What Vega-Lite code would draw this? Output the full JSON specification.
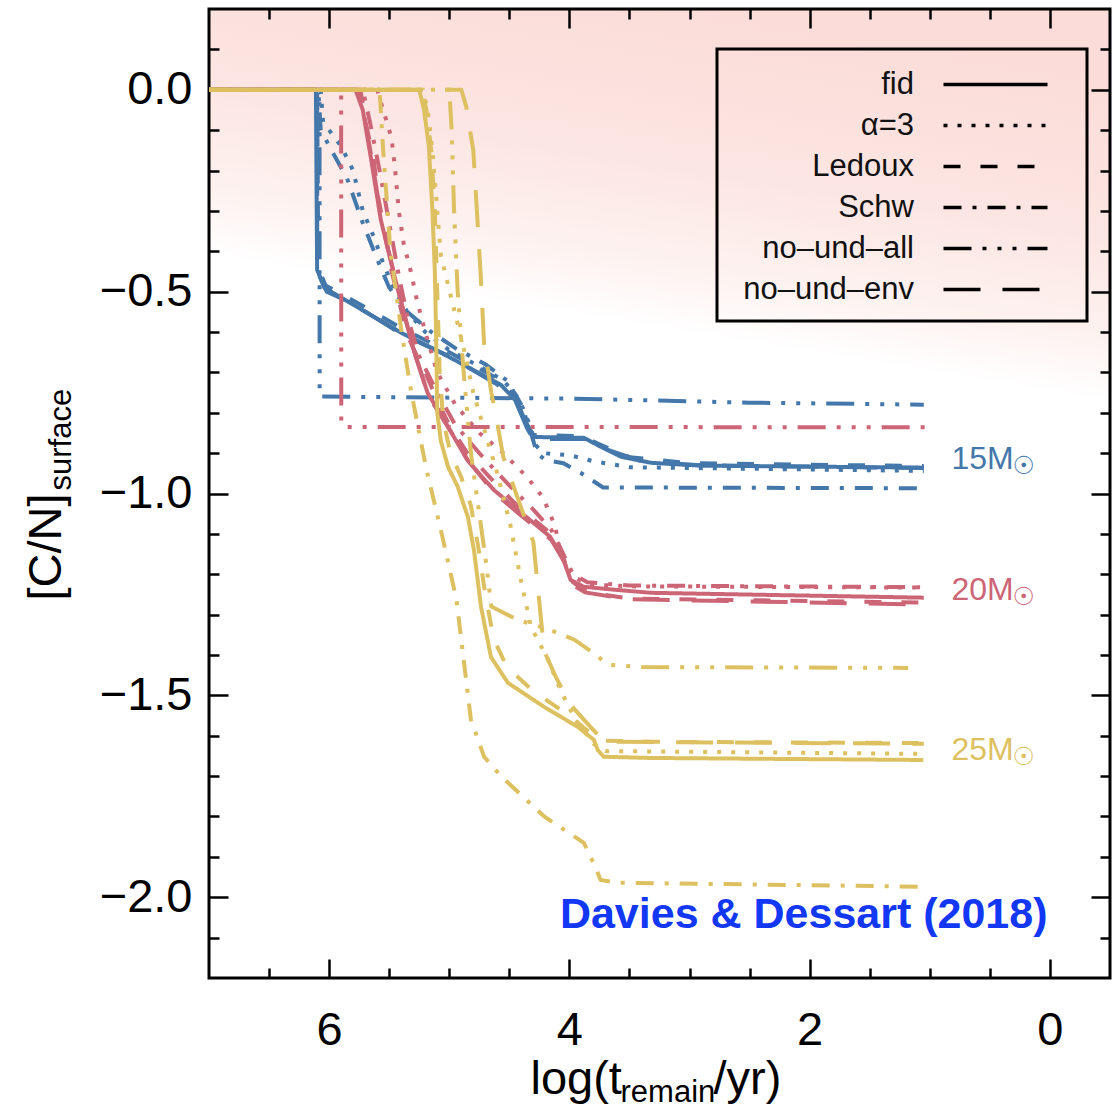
{
"$schema": "https://vega.github.io/schema/vega-lite/v6.json",
"width": 901, "height": 969,
"autosize": {"type": "none"},
"padding": {"left": 209, "top": 9, "right": 8, "bottom": 129},
"background": "white",
"config": {
 "view": {"stroke": "black", "strokeWidth": 3, "fill": {"gradient": "linear", "x1": 0.55, "y1": 0, "x2": 0.5, "y2": 0.33, "stops": [{"offset": 0, "color": "#fbdcd8"}, {"offset": 0.5, "color": "#fce6e3"}, {"offset": 0.8, "color": "#fdf2f0"}, {"offset": 1, "color": "#ffffff"}]}},
 "axis": {"domain": false, "grid": false, "tickColor": "black", "tickWidth": 2.5, "labelFont": "Liberation Sans", "titleFont": "Liberation Sans", "labelColor": "black", "titleColor": "black", "titleFontWeight": "normal", "labelFontSize": 47, "labelFlush": false}
},
"datasets": {"curves": [
{"m":"15","k":"fid","x":7,"y":0},{"m":"15","k":"fid","x":6.11,"y":0},{"m":"15","k":"fid","x":6.10,"y":-0.446},{"m":"15","k":"fid","x":6.04,"y":-0.49},{"m":"15","k":"fid","x":5.90,"y":-0.515},{"m":"15","k":"fid","x":5.40,"y":-0.602},{"m":"15","k":"fid","x":5.07,"y":-0.651},{"m":"15","k":"fid","x":4.57,"y":-0.731},{"m":"15","k":"fid","x":4.43,"y":-0.775},{"m":"15","k":"fid","x":4.35,"y":-0.835},{"m":"15","k":"fid","x":4.30,"y":-0.86},{"m":"15","k":"fid","x":3.88,"y":-0.862},{"m":"15","k":"fid","x":3.74,"y":-0.884},{"m":"15","k":"fid","x":3.57,"y":-0.909},{"m":"15","k":"fid","x":3.32,"y":-0.924},{"m":"15","k":"fid","x":2.91,"y":-0.931},{"m":"15","k":"fid","x":1.05,"y":-0.936},
{"m":"15","k":"α=3","x":7,"y":0},{"m":"15","k":"α=3","x":6.07,"y":0},{"m":"15","k":"α=3","x":6.05,"y":-0.08},{"m":"15","k":"α=3","x":6.0,"y":-0.1},{"m":"15","k":"α=3","x":5.9,"y":-0.14},{"m":"15","k":"α=3","x":5.8,"y":-0.2},{"m":"15","k":"α=3","x":5.72,"y":-0.3},{"m":"15","k":"α=3","x":5.62,"y":-0.37},{"m":"15","k":"α=3","x":5.55,"y":-0.43},{"m":"15","k":"α=3","x":5.45,"y":-0.5},{"m":"15","k":"α=3","x":5.35,"y":-0.55},{"m":"15","k":"α=3","x":5.2,"y":-0.6},{"m":"15","k":"α=3","x":5.0,"y":-0.645},{"m":"15","k":"α=3","x":4.75,"y":-0.685},{"m":"15","k":"α=3","x":4.55,"y":-0.72},{"m":"15","k":"α=3","x":4.42,"y":-0.765},{"m":"15","k":"α=3","x":4.33,"y":-0.83},{"m":"15","k":"α=3","x":4.28,"y":-0.88},{"m":"15","k":"α=3","x":4.22,"y":-0.9},{"m":"15","k":"α=3","x":4.0,"y":-0.905},{"m":"15","k":"α=3","x":3.8,"y":-0.92},{"m":"15","k":"α=3","x":3.5,"y":-0.935},{"m":"15","k":"α=3","x":1.05,"y":-0.944},
{"m":"15","k":"Ledoux","x":7,"y":0},{"m":"15","k":"Ledoux","x":6.1,"y":0},{"m":"15","k":"Ledoux","x":6.09,"y":-0.44},{"m":"15","k":"Ledoux","x":6.03,"y":-0.485},{"m":"15","k":"Ledoux","x":5.9,"y":-0.505},{"m":"15","k":"Ledoux","x":5.4,"y":-0.59},{"m":"15","k":"Ledoux","x":5.0,"y":-0.65},{"m":"15","k":"Ledoux","x":4.6,"y":-0.715},{"m":"15","k":"Ledoux","x":4.45,"y":-0.76},{"m":"15","k":"Ledoux","x":4.35,"y":-0.83},{"m":"15","k":"Ledoux","x":4.3,"y":-0.855},{"m":"15","k":"Ledoux","x":3.9,"y":-0.858},{"m":"15","k":"Ledoux","x":3.75,"y":-0.878},{"m":"15","k":"Ledoux","x":3.5,"y":-0.91},{"m":"15","k":"Ledoux","x":3.0,"y":-0.925},{"m":"15","k":"Ledoux","x":1.05,"y":-0.932},
{"m":"15","k":"Schw","x":7,"y":0},{"m":"15","k":"Schw","x":6.09,"y":0},{"m":"15","k":"Schw","x":6.07,"y":-0.1},{"m":"15","k":"Schw","x":5.98,"y":-0.15},{"m":"15","k":"Schw","x":5.85,"y":-0.22},{"m":"15","k":"Schw","x":5.72,"y":-0.33},{"m":"15","k":"Schw","x":5.6,"y":-0.42},{"m":"15","k":"Schw","x":5.5,"y":-0.49},{"m":"15","k":"Schw","x":5.35,"y":-0.55},{"m":"15","k":"Schw","x":5.15,"y":-0.6},{"m":"15","k":"Schw","x":4.95,"y":-0.64},{"m":"15","k":"Schw","x":4.7,"y":-0.68},{"m":"15","k":"Schw","x":4.52,"y":-0.72},{"m":"15","k":"Schw","x":4.4,"y":-0.78},{"m":"15","k":"Schw","x":4.32,"y":-0.85},{"m":"15","k":"Schw","x":4.27,"y":-0.9},{"m":"15","k":"Schw","x":4.2,"y":-0.917},{"m":"15","k":"Schw","x":4.05,"y":-0.925},{"m":"15","k":"Schw","x":3.9,"y":-0.95},{"m":"15","k":"Schw","x":3.72,"y":-0.985},{"m":"15","k":"Schw","x":1.05,"y":-0.987},
{"m":"15","k":"no–und–all","x":7,"y":0},{"m":"15","k":"no–und–all","x":6.08,"y":0},{"m":"15","k":"no–und–all","x":6.079,"y":-0.76},{"m":"15","k":"no–und–all","x":4.0,"y":-0.765},{"m":"15","k":"no–und–all","x":2.5,"y":-0.775},{"m":"15","k":"no–und–all","x":1.05,"y":-0.78},
{"m":"15","k":"no–und–env","x":7,"y":0},{"m":"15","k":"no–und–env","x":6.1,"y":0},{"m":"15","k":"no–und–env","x":6.099,"y":-0.45},{"m":"15","k":"no–und–env","x":6.02,"y":-0.5},{"m":"15","k":"no–und–env","x":5.8,"y":-0.53},{"m":"15","k":"no–und–env","x":5.4,"y":-0.605},{"m":"15","k":"no–und–env","x":5.0,"y":-0.66},{"m":"15","k":"no–und–env","x":4.6,"y":-0.73},{"m":"15","k":"no–und–env","x":4.45,"y":-0.77},{"m":"15","k":"no–und–env","x":4.35,"y":-0.84},{"m":"15","k":"no–und–env","x":4.3,"y":-0.865},{"m":"15","k":"no–und–env","x":3.85,"y":-0.865},{"m":"15","k":"no–und–env","x":3.7,"y":-0.89},{"m":"15","k":"no–und–env","x":3.4,"y":-0.92},{"m":"15","k":"no–und–env","x":2.9,"y":-0.93},{"m":"15","k":"no–und–env","x":1.05,"y":-0.937},
{"m":"20","k":"fid","x":7,"y":0},{"m":"20","k":"fid","x":5.78,"y":0},{"m":"20","k":"fid","x":5.72,"y":-0.05},{"m":"20","k":"fid","x":5.65,"y":-0.173},{"m":"20","k":"fid","x":5.57,"y":-0.322},{"m":"20","k":"fid","x":5.49,"y":-0.421},{"m":"20","k":"fid","x":5.38,"y":-0.552},{"m":"20","k":"fid","x":5.29,"y":-0.651},{"m":"20","k":"fid","x":5.18,"y":-0.751},{"m":"20","k":"fid","x":5.01,"y":-0.835},{"m":"20","k":"fid","x":4.85,"y":-0.917},{"m":"20","k":"fid","x":4.63,"y":-0.991},{"m":"20","k":"fid","x":4.40,"y":-1.048},{"m":"20","k":"fid","x":4.16,"y":-1.107},{"m":"20","k":"fid","x":4.05,"y":-1.164},{"m":"20","k":"fid","x":3.99,"y":-1.214},{"m":"20","k":"fid","x":3.88,"y":-1.231},{"m":"20","k":"fid","x":3.6,"y":-1.239},{"m":"20","k":"fid","x":3.32,"y":-1.246},{"m":"20","k":"fid","x":1.05,"y":-1.258},
{"m":"20","k":"α=3","x":7,"y":0},{"m":"20","k":"α=3","x":5.6,"y":0},{"m":"20","k":"α=3","x":5.55,"y":-0.05},{"m":"20","k":"α=3","x":5.48,"y":-0.12},{"m":"20","k":"α=3","x":5.45,"y":-0.2},{"m":"20","k":"α=3","x":5.42,"y":-0.3},{"m":"20","k":"α=3","x":5.38,"y":-0.38},{"m":"20","k":"α=3","x":5.32,"y":-0.45},{"m":"20","k":"α=3","x":5.27,"y":-0.52},{"m":"20","k":"α=3","x":5.2,"y":-0.6},{"m":"20","k":"α=3","x":5.1,"y":-0.7},{"m":"20","k":"α=3","x":4.95,"y":-0.78},{"m":"20","k":"α=3","x":4.75,"y":-0.85},{"m":"20","k":"α=3","x":4.55,"y":-0.9},{"m":"20","k":"α=3","x":4.35,"y":-0.96},{"m":"20","k":"α=3","x":4.22,"y":-1.01},{"m":"20","k":"α=3","x":4.12,"y":-1.08},{"m":"20","k":"α=3","x":4.07,"y":-1.15},{"m":"20","k":"α=3","x":4.0,"y":-1.2},{"m":"20","k":"α=3","x":3.85,"y":-1.225},{"m":"20","k":"α=3","x":3.5,"y":-1.23},{"m":"20","k":"α=3","x":1.05,"y":-1.233},
{"m":"20","k":"Ledoux","x":7,"y":0},{"m":"20","k":"Ledoux","x":5.74,"y":0},{"m":"20","k":"Ledoux","x":5.69,"y":-0.09},{"m":"20","k":"Ledoux","x":5.63,"y":-0.17},{"m":"20","k":"Ledoux","x":5.59,"y":-0.27},{"m":"20","k":"Ledoux","x":5.55,"y":-0.33},{"m":"20","k":"Ledoux","x":5.48,"y":-0.45},{"m":"20","k":"Ledoux","x":5.42,"y":-0.52},{"m":"20","k":"Ledoux","x":5.36,"y":-0.6},{"m":"20","k":"Ledoux","x":5.3,"y":-0.64},{"m":"20","k":"Ledoux","x":5.2,"y":-0.7},{"m":"20","k":"Ledoux","x":5.1,"y":-0.77},{"m":"20","k":"Ledoux","x":5.0,"y":-0.83},{"m":"20","k":"Ledoux","x":4.85,"y":-0.9},{"m":"20","k":"Ledoux","x":4.6,"y":-0.98},{"m":"20","k":"Ledoux","x":4.4,"y":-1.04},{"m":"20","k":"Ledoux","x":4.15,"y":-1.1},{"m":"20","k":"Ledoux","x":4.05,"y":-1.16},{"m":"20","k":"Ledoux","x":3.97,"y":-1.22},{"m":"20","k":"Ledoux","x":3.85,"y":-1.245},{"m":"20","k":"Ledoux","x":3.5,"y":-1.26},{"m":"20","k":"Ledoux","x":1.05,"y":-1.27},
{"m":"20","k":"Schw","x":7,"y":0},{"m":"20","k":"Schw","x":5.72,"y":0},{"m":"20","k":"Schw","x":5.66,"y":-0.08},{"m":"20","k":"Schw","x":5.58,"y":-0.2},{"m":"20","k":"Schw","x":5.5,"y":-0.33},{"m":"20","k":"Schw","x":5.42,"y":-0.46},{"m":"20","k":"Schw","x":5.35,"y":-0.56},{"m":"20","k":"Schw","x":5.25,"y":-0.66},{"m":"20","k":"Schw","x":5.1,"y":-0.75},{"m":"20","k":"Schw","x":4.95,"y":-0.83},{"m":"20","k":"Schw","x":4.75,"y":-0.9},{"m":"20","k":"Schw","x":4.5,"y":-0.98},{"m":"20","k":"Schw","x":4.3,"y":-1.04},{"m":"20","k":"Schw","x":4.15,"y":-1.09},{"m":"20","k":"Schw","x":4.05,"y":-1.15},{"m":"20","k":"Schw","x":3.97,"y":-1.2},{"m":"20","k":"Schw","x":3.85,"y":-1.22},{"m":"20","k":"Schw","x":3.5,"y":-1.228},{"m":"20","k":"Schw","x":1.05,"y":-1.232},
{"m":"20","k":"no–und–all","x":7,"y":0},{"m":"20","k":"no–und–all","x":5.9,"y":0},{"m":"20","k":"no–und–all","x":5.899,"y":-0.83},{"m":"20","k":"no–und–all","x":5.85,"y":-0.835},{"m":"20","k":"no–und–all","x":1.0,"y":-0.836},
{"m":"20","k":"no–und–env","x":7,"y":0},{"m":"20","k":"no–und–env","x":5.77,"y":0},{"m":"20","k":"no–und–env","x":5.71,"y":-0.06},{"m":"20","k":"no–und–env","x":5.64,"y":-0.18},{"m":"20","k":"no–und–env","x":5.56,"y":-0.33},{"m":"20","k":"no–und–env","x":5.48,"y":-0.43},{"m":"20","k":"no–und–env","x":5.37,"y":-0.56},{"m":"20","k":"no–und–env","x":5.28,"y":-0.66},{"m":"20","k":"no–und–env","x":5.17,"y":-0.76},{"m":"20","k":"no–und–env","x":5.0,"y":-0.84},{"m":"20","k":"no–und–env","x":4.84,"y":-0.92},{"m":"20","k":"no–und–env","x":4.62,"y":-1.0},{"m":"20","k":"no–und–env","x":4.4,"y":-1.055},{"m":"20","k":"no–und–env","x":4.15,"y":-1.115},{"m":"20","k":"no–und–env","x":4.04,"y":-1.17},{"m":"20","k":"no–und–env","x":3.98,"y":-1.225},{"m":"20","k":"no–und–env","x":3.87,"y":-1.245},{"m":"20","k":"no–und–env","x":3.5,"y":-1.262},{"m":"20","k":"no–und–env","x":1.05,"y":-1.275},
{"m":"25","k":"fid","x":7,"y":0},{"m":"25","k":"fid","x":5.25,"y":0},{"m":"25","k":"fid","x":5.21,"y":-0.05},{"m":"25","k":"fid","x":5.17,"y":-0.14},{"m":"25","k":"fid","x":5.14,"y":-0.3},{"m":"25","k":"fid","x":5.12,"y":-0.45},{"m":"25","k":"fid","x":5.11,"y":-0.6},{"m":"25","k":"fid","x":5.1,"y":-0.8},{"m":"25","k":"fid","x":5.07,"y":-0.87},{"m":"25","k":"fid","x":5.01,"y":-0.934},{"m":"25","k":"fid","x":4.93,"y":-0.983},{"m":"25","k":"fid","x":4.845,"y":-1.058},{"m":"25","k":"fid","x":4.795,"y":-1.139},{"m":"25","k":"fid","x":4.736,"y":-1.28},{"m":"25","k":"fid","x":4.653,"y":-1.405},{"m":"25","k":"fid","x":4.512,"y":-1.469},{"m":"25","k":"fid","x":4.213,"y":-1.528},{"m":"25","k":"fid","x":3.93,"y":-1.578},{"m":"25","k":"fid","x":3.797,"y":-1.61},{"m":"25","k":"fid","x":3.764,"y":-1.635},{"m":"25","k":"fid","x":3.714,"y":-1.652},{"m":"25","k":"fid","x":3.323,"y":-1.655},{"m":"25","k":"fid","x":1.054,"y":-1.66},
{"m":"25","k":"α=3","x":7,"y":0},{"m":"25","k":"α=3","x":5.22,"y":0},{"m":"25","k":"α=3","x":5.18,"y":-0.05},{"m":"25","k":"α=3","x":5.14,"y":-0.15},{"m":"25","k":"α=3","x":5.1,"y":-0.3},{"m":"25","k":"α=3","x":5.07,"y":-0.41},{"m":"25","k":"α=3","x":4.98,"y":-0.52},{"m":"25","k":"α=3","x":4.88,"y":-0.64},{"m":"25","k":"α=3","x":4.8,"y":-0.75},{"m":"25","k":"α=3","x":4.7,"y":-0.85},{"m":"25","k":"α=3","x":4.6,"y":-0.95},{"m":"25","k":"α=3","x":4.49,"y":-1.08},{"m":"25","k":"α=3","x":4.4,"y":-1.22},{"m":"25","k":"α=3","x":4.32,"y":-1.33},{"m":"25","k":"α=3","x":4.18,"y":-1.41},{"m":"25","k":"α=3","x":4.07,"y":-1.49},{"m":"25","k":"α=3","x":3.95,"y":-1.56},{"m":"25","k":"α=3","x":3.8,"y":-1.62},{"m":"25","k":"α=3","x":3.7,"y":-1.638},{"m":"25","k":"α=3","x":1.05,"y":-1.645},
{"m":"25","k":"Ledoux","x":7,"y":0},{"m":"25","k":"Ledoux","x":5.23,"y":0},{"m":"25","k":"Ledoux","x":5.19,"y":-0.05},{"m":"25","k":"Ledoux","x":5.15,"y":-0.15},{"m":"25","k":"Ledoux","x":5.12,"y":-0.3},{"m":"25","k":"Ledoux","x":5.1,"y":-0.5},{"m":"25","k":"Ledoux","x":5.08,"y":-0.7},{"m":"25","k":"Ledoux","x":5.05,"y":-0.82},{"m":"25","k":"Ledoux","x":4.99,"y":-0.9},{"m":"25","k":"Ledoux","x":4.9,"y":-0.96},{"m":"25","k":"Ledoux","x":4.82,"y":-1.03},{"m":"25","k":"Ledoux","x":4.76,"y":-1.13},{"m":"25","k":"Ledoux","x":4.7,"y":-1.25},{"m":"25","k":"Ledoux","x":4.63,"y":-1.36},{"m":"25","k":"Ledoux","x":4.52,"y":-1.43},{"m":"25","k":"Ledoux","x":4.3,"y":-1.49},{"m":"25","k":"Ledoux","x":4.0,"y":-1.55},{"m":"25","k":"Ledoux","x":3.82,"y":-1.595},{"m":"25","k":"Ledoux","x":3.72,"y":-1.612},{"m":"25","k":"Ledoux","x":3.3,"y":-1.615},{"m":"25","k":"Ledoux","x":1.05,"y":-1.618},
{"m":"25","k":"Schw","x":7,"y":0},{"m":"25","k":"Schw","x":5.58,"y":0},{"m":"25","k":"Schw","x":5.55,"y":-0.15},{"m":"25","k":"Schw","x":5.49,"y":-0.4},{"m":"25","k":"Schw","x":5.4,"y":-0.594},{"m":"25","k":"Schw","x":5.32,"y":-0.743},{"m":"25","k":"Schw","x":5.19,"y":-0.941},{"m":"25","k":"Schw","x":5.07,"y":-1.09},{"m":"25","k":"Schw","x":4.94,"y":-1.263},{"m":"25","k":"Schw","x":4.82,"y":-1.56},{"m":"25","k":"Schw","x":4.71,"y":-1.652},{"m":"25","k":"Schw","x":4.57,"y":-1.70},{"m":"25","k":"Schw","x":4.21,"y":-1.80},{"m":"25","k":"Schw","x":3.88,"y":-1.865},{"m":"25","k":"Schw","x":3.8,"y":-1.915},{"m":"25","k":"Schw","x":3.74,"y":-1.957},{"m":"25","k":"Schw","x":3.6,"y":-1.964},{"m":"25","k":"Schw","x":1.02,"y":-1.974},
{"m":"25","k":"no–und–all","x":7,"y":0},{"m":"25","k":"no–und–all","x":5.0,"y":0},{"m":"25","k":"no–und–all","x":4.98,"y":-0.1},{"m":"25","k":"no–und–all","x":4.96,"y":-0.3},{"m":"25","k":"no–und–all","x":4.93,"y":-0.5},{"m":"25","k":"no–und–all","x":4.88,"y":-0.7},{"m":"25","k":"no–und–all","x":4.82,"y":-0.9},{"m":"25","k":"no–und–all","x":4.75,"y":-1.05},{"m":"25","k":"no–und–all","x":4.69,"y":-1.18},{"m":"25","k":"no–und–all","x":4.65,"y":-1.28},{"m":"25","k":"no–und–all","x":4.43,"y":-1.313},{"m":"25","k":"no–und–all","x":4.16,"y":-1.338},{"m":"25","k":"no–und–all","x":3.96,"y":-1.362},{"m":"25","k":"no–und–all","x":3.8,"y":-1.395},{"m":"25","k":"no–und–all","x":3.68,"y":-1.424},{"m":"25","k":"no–und–all","x":3.4,"y":-1.43},{"m":"25","k":"no–und–all","x":1.18,"y":-1.432},
{"m":"25","k":"no–und–env","x":7,"y":0},{"m":"25","k":"no–und–env","x":4.9,"y":0},{"m":"25","k":"no–und–env","x":4.86,"y":-0.04},{"m":"25","k":"no–und–env","x":4.8,"y":-0.15},{"m":"25","k":"no–und–env","x":4.77,"y":-0.3},{"m":"25","k":"no–und–env","x":4.74,"y":-0.45},{"m":"25","k":"no–und–env","x":4.71,"y":-0.63},{"m":"25","k":"no–und–env","x":4.65,"y":-0.75},{"m":"25","k":"no–und–env","x":4.61,"y":-0.81},{"m":"25","k":"no–und–env","x":4.55,"y":-0.91},{"m":"25","k":"no–und–env","x":4.42,"y":-1.02},{"m":"25","k":"no–und–env","x":4.3,"y":-1.12},{"m":"25","k":"no–und–env","x":4.25,"y":-1.27},{"m":"25","k":"no–und–env","x":4.21,"y":-1.39},{"m":"25","k":"no–und–env","x":4.12,"y":-1.45},{"m":"25","k":"no–und–env","x":4.0,"y":-1.52},{"m":"25","k":"no–und–env","x":3.88,"y":-1.56},{"m":"25","k":"no–und–env","x":3.74,"y":-1.605},{"m":"25","k":"no–und–env","x":3.6,"y":-1.615},{"m":"25","k":"no–und–env","x":1.05,"y":-1.62}
],
"labels": [{"m":"15","t":"15M","x":0.82,"y":-0.94},{"m":"20","t":"20M","x":0.82,"y":-1.263},{"m":"25","t":"25M","x":0.82,"y":-1.66}],
"credit": [{"t":"Davies & Dessart (2018)","x":0.02,"y":-2.045}]
},
"data": {"name": "curves"},
"transform": [{"window": [{"op": "row_number", "as": "rn"}]}],
"resolve": {"axis": {"x": "independent", "y": "independent"}},
"layer": [
 {"transform": [{"filter": "datum.m == '15'"}],
  "mark": {"type": "line", "strokeWidth": 4},
  "encoding": {
   "x": {"field": "x", "type": "quantitative", "scale": {"domain": [-0.5, 7], "reverse": true, "nice": false, "zero": false},
         "axis": {"orient": "bottom", "values": [6,4,2,0], "format": "d", "tickSize": -19, "labelPadding": 48, "title": "log(t", "titleFontSize": 47, "titleX": 321, "titleY": 115, "titleAlign": "left", "titleBaseline": "alphabetic", "titleAngle": 0}},
   "y": {"field": "y", "type": "quantitative", "scale": {"domain": [-2.2, 0.2], "nice": false, "zero": false},
         "axis": {"orient": "left", "values": [0,-0.5,-1,-1.5,-2], "format": ".1f", "tickSize": -19, "labelPadding": 36, "title": "[C/N]", "titleFontSize": 47, "titleX": -149, "titleY": 591, "titleAngle": 270, "titleAlign": "left", "titleBaseline": "alphabetic"}},
   "color": {"field": "m", "type": "nominal", "scale": {"domain": ["15","20","25"], "range": ["#4477aa","#cc6677","#ddc060"]}, "legend": null},
   "strokeDash": {"field": "k", "type": "nominal", "scale": {"domain": ["fid","α=3","Ledoux","Schw","no–und–all","no–und–env"], "range": [[1,0],[4,10],[17,20],[18,11,4,11],[28,11,4,11,4,11,4,11],[37,22]]},
         "legend": {"title": "\u00a0", "titleOrient": "right", "titlePadding": 16, "titleFontSize": 31, "orient": "none", "legendX": 508, "legendY": 40,
                    "symbolType": "M-3,0H3", "symbolSize": 1202, "symbolStrokeWidth": 3.5, "symbolStrokeColor": "black", "symbolFillColor": "transparent", "symbolOffset": 243,
                    "labelFontSize": 31, "labelFont": "Liberation Sans", "labelColor": "#111111", "labelAlign": "right", "labelOffset": -101, "rowPadding": 6, "padding": 16, "strokeColor": "black", "labelLimit": 400,
                    "encode": {"legend": {"update": {"strokeWidth": {"value": 3}}}}}},
   "order": {"field": "rn"}
  }},
 {"transform": [{"filter": "datum.m == '20'"}],
  "mark": {"type": "line", "strokeWidth": 4},
  "encoding": {
   "x": {"field": "x", "type": "quantitative", "scale": {"domain": [-0.5, 7], "reverse": true, "nice": false, "zero": false},
         "axis": {"orient": "bottom", "values": [6.5,5.5,5,4.5,3.5,3,2.5,1.5,1,0.5], "tickSize": -10, "labels": false, "title": "remain", "titleFontSize": 31, "titleX": 411, "titleY": 123, "titleAlign": "left", "titleBaseline": "alphabetic", "titleAngle": 0}},
   "y": {"field": "y", "type": "quantitative", "scale": {"domain": [-2.2, 0.2], "nice": false, "zero": false},
         "axis": {"orient": "left", "values": [0.1,-0.1,-0.2,-0.3,-0.4,-0.6,-0.7,-0.8,-0.9,-1.1,-1.2,-1.3,-1.4,-1.6,-1.7,-1.8,-1.9,-2.1], "tickSize": -10, "labels": false, "title": "surface", "titleFontSize": 31, "titleX": -139, "titleY": 481, "titleAngle": 270, "titleAlign": "left", "titleBaseline": "alphabetic"}},
   "color": {"field": "m", "type": "nominal", "scale": {"domain": ["15","20","25"], "range": ["#4477aa","#cc6677","#ddc060"]}, "legend": null},
   "strokeDash": {"field": "k", "type": "nominal", "scale": {"domain": ["fid","α=3","Ledoux","Schw","no–und–all","no–und–env"], "range": [[1,0],[4,10],[17,20],[18,11,4,11],[28,11,4,11,4,11,4,11],[37,22]]}},
   "order": {"field": "rn"}
  }},
 {"transform": [{"filter": "datum.m == '25'"}],
  "mark": {"type": "line", "strokeWidth": 4},
  "encoding": {
   "x": {"field": "x", "type": "quantitative", "scale": {"domain": [-0.5, 7], "reverse": true, "nice": false, "zero": false},
         "axis": {"orient": "top", "values": [6,4,2,0], "tickSize": -19, "labels": false, "title": "/yr)", "titleFontSize": 47, "titleX": 504, "titleY": 1084, "titleAlign": "left", "titleBaseline": "alphabetic", "titleAngle": 0}},
   "y": {"field": "y", "type": "quantitative", "scale": {"domain": [-2.2, 0.2], "nice": false, "zero": false},
         "axis": {"orient": "right", "values": [0,-0.5,-1,-1.5,-2], "tickSize": -19, "labels": false, "title": null}},
   "color": {"field": "m", "type": "nominal", "scale": {"domain": ["15","20","25"], "range": ["#4477aa","#cc6677","#ddc060"]}, "legend": null},
   "strokeDash": {"field": "k", "type": "nominal", "scale": {"domain": ["fid","α=3","Ledoux","Schw","no–und–all","no–und–env"], "range": [[1,0],[4,10],[17,20],[18,11,4,11],[28,11,4,11,4,11,4,11],[37,22]]}},
   "order": {"field": "rn"}
  }},
 {"data": {"name": "labels"},
  "mark": {"type": "text", "align": "left", "baseline": "alphabetic", "font": "Liberation Sans", "fontSize": 32},
  "encoding": {
   "x": {"field": "x", "type": "quantitative", "scale": {"domain": [-0.5, 7], "reverse": true, "nice": false, "zero": false},
         "axis": {"orient": "top", "values": [6.5,5.5,5,4.5,3.5,3,2.5,1.5,1,0.5], "tickSize": -10, "labels": false, "title": null}},
   "y": {"field": "y", "type": "quantitative", "scale": {"domain": [-2.2, 0.2], "nice": false, "zero": false},
         "axis": {"orient": "right", "values": [0.1,-0.1,-0.2,-0.3,-0.4,-0.6,-0.7,-0.8,-0.9,-1.1,-1.2,-1.3,-1.4,-1.6,-1.7,-1.8,-1.9,-2.1], "tickSize": -10, "labels": false, "title": null}},
   "text": {"field": "t"},
   "color": {"field": "m", "type": "nominal", "scale": {"domain": ["15","20","25"], "range": ["#4477aa","#cc6677","#ddc060"]}, "legend": null}
  }},
 {"data": {"name": "labels"},
  "mark": {"type": "text", "align": "left", "baseline": "middle", "font": "DejaVu Sans", "fontSize": 25, "dx": 61, "dy": -3},
  "encoding": {
   "x": {"field": "x", "type": "quantitative", "axis": null},
   "y": {"field": "y", "type": "quantitative", "axis": null},
   "text": {"value": "☉"},
   "color": {"field": "m", "type": "nominal", "legend": null}
  }},
 {"data": {"name": "credit"},
  "mark": {"type": "text", "align": "right", "baseline": "middle", "font": "Liberation Sans", "fontSize": 43, "fontWeight": "bold", "color": "#1238f5"},
  "encoding": {
   "x": {"field": "x", "type": "quantitative", "axis": null},
   "y": {"field": "y", "type": "quantitative", "axis": null},
   "text": {"field": "t"}
  }}
]
}
